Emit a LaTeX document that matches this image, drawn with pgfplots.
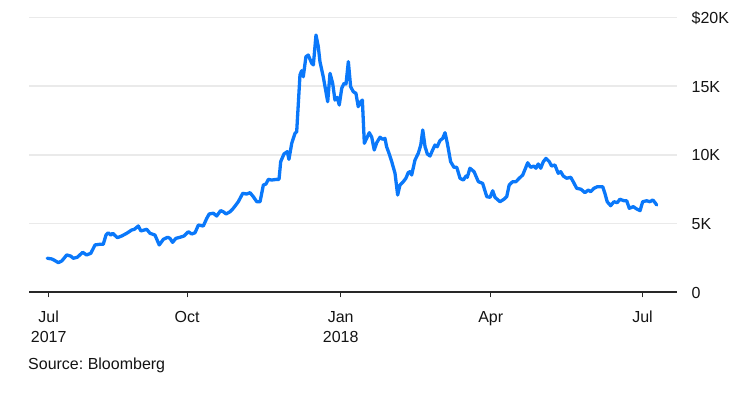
\documentclass[border=0pt]{standalone}
\usepackage{pgfplots}
\pgfplotsset{compat=1.18}
\usepackage{fontspec}
\setmainfont{Liberation Sans}
\definecolor{btc}{RGB}{10,120,250}
\definecolor{gridc}{RGB}{234,234,234}
\definecolor{axc}{RGB}{40,40,40}
\definecolor{txt}{RGB}{20,20,20}
\begin{document}
\frenchspacing
\fontsize{16bp}{20bp}\selectfont
\begin{tikzpicture}
\path[use as bounding box] (0,0) rectangle (749bp,394bp);
\begin{axis}[
  at={(29bp,102bp)}, anchor=south west,
  scale only axis, width=648bp, height=274.4bp,
  xmin=-4.24, xmax=388.5, ymin=0, ymax=20,
  axis x line*=bottom, axis y line*=right,
  y axis line style={draw=none},
  x axis line style={-, draw=axc, line width=1.2bp},
  xtick={7.7,91.6,184.7,275.6,367.6},
  xticklabels={Jul\\2017, Oct, Jan\\2018, Apr, Jul},
  xticklabel style={align=center, font=\fontsize{16bp}{20bp}\selectfont, text=txt, yshift=-8bp},
  tick align=outside, major tick length=5.5bp,
  xtick style={draw=axc, line width=1.2bp},
  ytick={0,5,10,15,20},
  yticklabels={0,5K,10K,15K,\$20K},
  ytick style={draw=none},
  yticklabel style={anchor=west, inner sep=0pt, xshift=9bp, yshift=-0.5bp, font=\fontsize{16bp}{20bp}\selectfont, text=txt},
  ymajorgrids, grid style={draw=gridc, line width=1.6bp},
  clip=false,
]
\addplot[btc, line width=3.3bp, line join=round, line cap=round] coordinates {
(6.8,2.46)(9.5,2.41)(10.9,2.33)(13.5,2.14)(15.6,2.26)(17.0,2.46)(18.6,2.70)(21.0,2.62)
(22.6,2.46)(25.0,2.53)(28.3,2.89)(30.7,2.70)(33.2,2.82)(35.8,3.43)(38.8,3.48)(40.8,3.48)
(42.4,4.15)(43.8,4.32)(45.3,4.15)(46.5,4.28)(49.3,3.96)(51.9,4.08)(55.0,4.28)(58.0,4.52)
(59.6,4.57)(62.0,4.81)(63.6,4.45)(67.1,4.57)(69.1,4.28)(72.1,4.15)(74.7,3.43)(77.2,3.84)
(79.8,3.99)(81.2,3.91)(82.8,3.62)(84.8,3.91)(87.3,3.99)(89.7,4.08)(92.3,4.39)(94.4,4.23)
(96.4,4.32)(98.4,4.88)(101.4,4.81)(103.5,5.37)(105.0,5.69)(107.5,5.74)(109.5,5.54)
(111.9,5.93)(113.5,5.85)(115.2,5.69)(117.6,5.85)(119.6,6.10)(122.6,6.58)(125.3,7.19)
(127.7,7.14)(129.7,7.24)(131.7,6.95)(133.8,6.58)(135.8,6.58)(137.8,7.80)(139.4,7.87)
(140.8,8.21)(142.8,8.16)(145.9,8.21)(147.3,8.21)(148.3,9.50)(150.3,10.06)(152.3,10.23)
(153.3,9.67)(155.0,10.84)(157.0,11.57)(158.0,11.68)(160.0,15.82)(161.0,16.13)(162.0,15.69)
(163.6,17.15)(165.0,17.27)(167.1,16.67)(168.1,16.55)(169.7,18.73)(171.1,17.88)(172.1,16.79)
(174.1,15.69)(176.8,13.87)(178.2,15.94)(179.8,15.21)(181.2,13.99)(182.6,14.18)(183.8,13.63)
(185.3,14.85)(186.7,15.21)(187.9,15.16)(189.3,16.79)(190.7,14.96)(192.3,14.60)(193.9,14.48)
(195.3,13.51)(196.8,13.87)(197.8,13.99)(199.0,10.84)(200.4,11.20)(202.0,11.61)(203.5,11.28)
(205.0,10.35)(206.5,10.88)(208.5,11.28)(210.1,11.13)(211.5,11.20)(212.5,10.59)(214.1,10.06)
(215.6,9.50)(217.6,8.65)(219.2,7.07)(220.6,7.80)(222.6,8.04)(224.2,8.29)(225.6,8.70)
(226.7,8.77)(227.7,8.53)(229.7,9.62)(231.7,10.11)(233.2,10.71)(234.4,11.81)(235.8,10.59)
(237.2,10.06)(238.8,9.91)(240.4,10.35)(241.8,10.71)(243.2,10.59)(244.8,11.03)(246.5,11.20)
(247.9,11.61)(249.3,10.84)(251.3,9.50)(253.3,9.09)(255.0,9.09)(257.0,8.29)(259.0,8.16)
(260.6,8.45)(261.4,8.36)(263.0,9.02)(265.5,8.77)(268.1,8.04)(270.7,7.92)(273.2,6.95)
(275.2,6.90)(276.8,7.38)(278.2,6.90)(281.2,6.58)(283.6,6.76)(285.3,6.95)(286.8,7.80)
(288.9,8.04)(290.9,8.04)(292.9,8.29)(295.0,8.53)(296.4,8.94)(298.0,9.42)(299.8,9.09)
(301.8,9.18)(303.0,9.02)(304.4,9.33)(305.9,9.02)(307.5,9.50)(309.1,9.74)(311.1,9.50)
(312.5,9.18)(314.5,9.26)(316.5,8.65)(318.0,8.77)(319.6,8.45)(321.6,8.29)(324.1,8.36)
(325.6,8.04)(327.7,7.56)(330.3,7.49)(332.7,7.24)(334.7,7.43)(336.2,7.31)(338.2,7.56)
(340.2,7.67)(343.5,7.67)(344.8,7.19)(346.2,6.58)(348.3,6.29)(350.3,6.58)(352.3,6.51)
(353.9,6.76)(356.4,6.65)(358.0,6.65)(359.6,6.10)(362.0,6.22)(364.1,6.05)(366.1,5.93)
(367.7,6.58)(370.1,6.65)(372.1,6.58)(373.8,6.71)(375.2,6.51)(376.2,6.34)
};
\end{axis}
\node[anchor=west, inner sep=0pt, text=txt] at (28bp,29bp) {Source: Bloomberg};
\end{tikzpicture}
\end{document}
